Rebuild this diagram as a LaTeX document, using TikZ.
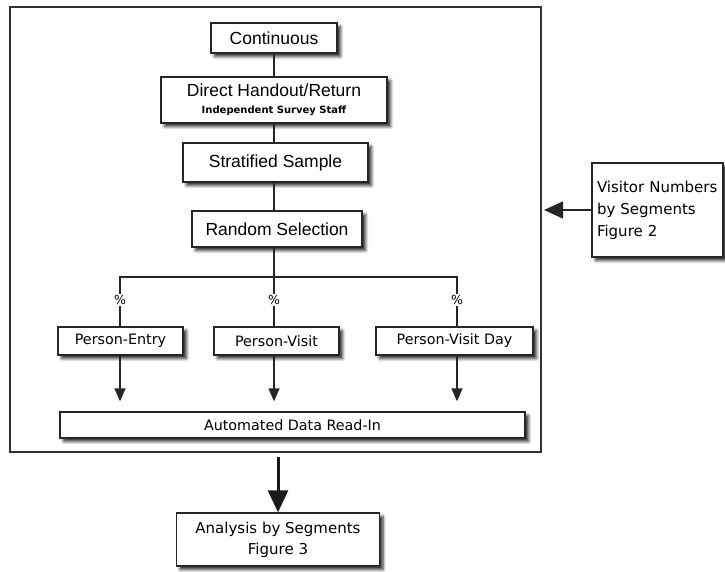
\documentclass[tikz,border=0pt]{standalone}
\usepackage{fontspec}
\setmainfont{Liberation Sans}
\newfontfamily\dvs{DejaVu Sans}
\usetikzlibrary{shadows.blur,arrows.meta}
\begin{document}
\begin{tikzpicture}[x=1pt,y=-1pt,
  box/.style={draw=black!85, line width=1.4pt, fill=white, inner sep=0pt,
    blur shadow={shadow xshift=3.5pt, shadow yshift=-3.5pt, shadow blur steps=6,
      shadow blur radius=3pt, shadow opacity=85}},
  bigtxt/.style={font=\fontsize{17.5}{20}\selectfont},
  midtxt/.style={font=\dvs\fontsize{14.3}{16}\selectfont},
  geotxt/.style={font=\dvs\fontsize{15}{22}\selectfont},
  pct/.style={font=\dvs\fontsize{12.5}{13}\selectfont, inner sep=1.5pt},
  conn/.style={line width=1.4pt, draw=black!85},
  arr/.style={conn, -{Triangle[width=11pt,length=13pt]}},
]
\useasboundingbox (0,0) rectangle (725,571);

% outer frame
\node[draw=black!80, line width=2pt, minimum width=531pt, minimum height=445pt, inner sep=0pt] (frame) at (275.5,229.5) {};

% main chain
\node[box, bigtxt, minimum width=126pt, minimum height=30pt] (cont) at (274,38) {Continuous};
\node[box, bigtxt, minimum width=226pt, minimum height=46pt, align=center] (direct) at (274,100)
  {Direct Handout/Return\\[-3pt]{\dvs\bfseries\fontsize{10}{11}\selectfont Independent Survey Staff}};
\node[box, bigtxt, minimum width=185pt, minimum height=39pt] (strat) at (275.5,162.5) {Stratified Sample};
\node[box, bigtxt, minimum width=170pt, minimum height=36pt] (rand) at (277,229) {Random Selection};

\draw[conn] (cont.south) -- (direct.north);
\draw[conn] (direct.south) -- (direct.south |- strat.north);
\draw[conn] (strat.south -| direct.south) -- (rand.north -| direct.south);

% branches
\coordinate (j) at (274,277);
\node[pct] (p1) at (120,300) {\%};
\node[pct] (p2) at (274,300) {\%};
\node[pct] (p3) at (457,300) {\%};
\draw[conn] (rand.south -| j) -- (j);
\draw[conn] (p1.north) -- (p1 |- j) -- (p3 |- j) -- (p3.north);
\draw[conn] (j) -- (p2.north);

\node[box, midtxt, minimum width=125pt, minimum height=28pt] (pe) at (120.5,341) {Person-Entry};
\node[box, midtxt, minimum width=125pt, minimum height=28pt] (pv) at (276.5,341) {Person-Visit};
\node[box, midtxt, minimum width=157pt, minimum height=28pt] (pvd) at (454.5,341) {Person-Visit Day};

\draw[conn] (p1.south) -- (p1 |- pe.north);
\draw[conn] (p2.south) -- (p2 |- pv.north);
\draw[conn] (p3.south) -- (p3 |- pvd.north);

\node[box, midtxt, minimum width=465pt, minimum height=26pt] (auto) at (292.5,425) {Automated Data Read-In};

\draw[arr, shorten >=10pt] (p1 |- pe.south) -- (p1 |- auto.north);
\draw[arr, shorten >=10pt] (p2 |- pv.south) -- (p2 |- auto.north);
\draw[arr, shorten >=10pt] (p3 |- pvd.south) -- (p3 |- auto.north);

% side box
\node[box, geotxt, text width=121pt, minimum height=94pt, inner xsep=5pt, align=left] (vis) at (657.5,210)
  {Visitor Numbers\\by Segments\\Figure 2};
\draw[conn, -{Triangle[width=17pt,length=19pt]}, shorten >=2pt] (vis.west) -- (vis.west -| frame.east);

% bottom box
\node[box, geotxt, minimum width=203pt, minimum height=53pt, align=center, font=\dvs\fontsize{15}{21}\selectfont] (ana) at (278,539.5)
  {Analysis by Segments\\Figure 3};
\draw[line width=3pt, draw=black!90, -{Triangle[width=20pt,length=22pt]}, shorten <=4pt] (frame.south -| ana.north) -- (ana.north);
\end{tikzpicture}
\end{document}
